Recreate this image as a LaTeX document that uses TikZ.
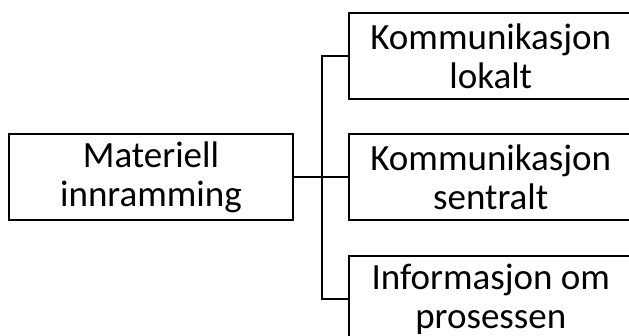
\documentclass[tikz,border=0pt]{standalone}
\usepackage{fontspec}
\setmainfont{Carlito}
\usetikzlibrary{positioning,calc}
\definecolor{Ink}{HTML}{000000}

\begin{document}
\begin{tikzpicture}[x=1pt,y=1pt]
\tikzset{
  boks/.style={draw=Ink,line width=1.5pt,minimum width=284pt,minimum height=86pt,inner sep=0pt,align=center,font=\fontsize{37}{39}\selectfont},
  linje/.style={draw=Ink,line width=1.5pt}
}
\clip (0,0) rectangle (629,336);
\node[boks] (materiell) at (151,159) {Materiell\\innramming};
\node[boks,anchor=west] (lokalt) at (348,280) {Kommunikasjon\\lokalt};
\node[boks,anchor=west] (sentralt) at (348,159) {Kommunikasjon\\sentralt};
\node[boks,anchor=west] (prosessen) at (348,37) {Informasjon om\\prosessen};
\coordinate (fork) at (322,159);
\draw[linje] (materiell.east) -- (sentralt.west);
\draw[linje] (lokalt.west) -| (fork) |- (prosessen.west);
\end{tikzpicture}
\end{document}
